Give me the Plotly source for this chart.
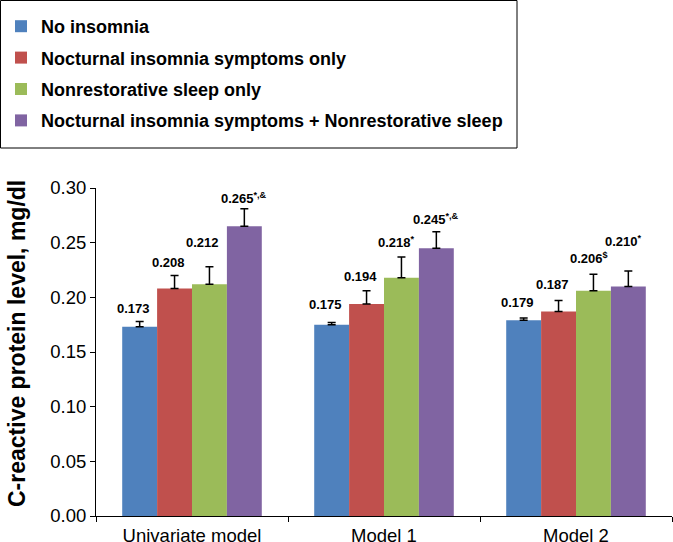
import plotly.graph_objects as go

categories = ["Univariate model", "Model 1", "Model 2"]
series_names = [
    "No insomnia",
    "Nocturnal insomnia symptoms only",
    "Nonrestorative sleep only",
    "Nocturnal insomnia symptoms + Nonrestorative sleep",
]
values = [
    [0.173, 0.175, 0.179],
    [0.208, 0.194, 0.187],
    [0.212, 0.218, 0.206],
    [0.265, 0.245, 0.210],
]
errors_upper = [
    [0.005, 0.002, 0.002],
    [0.012, 0.012, 0.010],
    [0.016, 0.019, 0.015],
    [0.016, 0.015, 0.014],
]
label_suffix = [
    ["", "", ""],
    ["", "", ""],
    ["", "*", "$"],
    ["*,&", "*,&", "*"],
]
y_ticks = [0.00, 0.05, 0.10, 0.15, 0.20, 0.25, 0.30]
y_title = "C-reactive protein level, mg/dl"

colors = ["#4F81BD", "#C0504D", "#9BBB59", "#8064A2"]
# vertical gap (px) between error-bar top and label centre
label_shift = [
    [13, 18, 16],
    [13, 14, 16],
    [24, 15, 16],
    [11, 13, 30],
]

FONT = "Liberation Sans, Arial, sans-serif"
W, H = 673, 542
ML, MR, MT, MB = 96, 1, 188, 26
PW, PH = W - ML - MR, H - MT - MB


def px_to_paper_x(px):
    return (px - ML) / PW


def px_to_paper_y(py):
    return (H - MB - py) / PH


fig = go.Figure()
for i, name in enumerate(series_names):
    fig.add_trace(go.Bar(
        name=name, x=categories, y=values[i],
        marker=dict(color=colors[i], line=dict(width=0)),
        error_y=dict(type="data", array=errors_upper[i], arrayminus=[0, 0, 0],
                     symmetric=False, color="black", thickness=1.5, width=4),
        legendgroup=f"g{i}",
    ))

n = len(series_names)
bargap = 0.273
grp = 1 - bargap
for i in range(n):
    for j, cat in enumerate(categories):
        v = values[i][j]
        top = v + errors_upper[i][j]
        suf = label_suffix[i][j]
        txt = f"<b>{v:.3f}</b>"
        if suf:
            txt += f"<sup><b>{suf}</b></sup>"
        offset = -grp / 2 + grp / n * (i + 0.5)
        fig.add_annotation(
            x=j + offset, y=top, xref="x", yref="y", text=txt, showarrow=False,
            yanchor="middle", xanchor="left", yshift=label_shift[i][j], xshift=-25,
            font=dict(family=FONT, size=13, color="black"),
        )

# y-axis title (placed as rotated text to match the reference position)
fig.add_annotation(
    x=px_to_paper_x(17), y=px_to_paper_y(344), xref="paper", yref="paper",
    text=f"<b>{y_title}</b>", textangle=-90, showarrow=False,
    xanchor="center", yanchor="middle",
    font=dict(family=FONT, size=23, color="black"),
)

# legend frame
fig.add_shape(type="rect", xref="paper", yref="paper",
              x0=px_to_paper_x(0.5), x1=px_to_paper_x(517),
              y0=px_to_paper_y(148), y1=px_to_paper_y(0.5),
              line=dict(color="black", width=1), fillcolor="rgba(0,0,0,0)")

fig.update_layout(
    width=W, height=H,
    margin=dict(l=ML, r=MR, t=MT, b=MB, autoexpand=False),
    paper_bgcolor="white", plot_bgcolor="white",
    barmode="group", bargap=bargap, bargroupgap=0,
    showlegend=True,
    legend=dict(
        x=px_to_paper_x(1), y=px_to_paper_y(8),
        xanchor="left", yanchor="top",
        font=dict(family=FONT, size=18, color="black", weight="bold"),
        traceorder="grouped", tracegroupgap=5,
        bgcolor="rgba(0,0,0,0)", borderwidth=0,
    ),
    xaxis=dict(
        showline=True, linecolor="black", linewidth=1,
        ticks="outside", tickson="boundaries", ticklen=5, tickcolor="black",
        tickfont=dict(family=FONT, size=18.5, color="black"),
        ticklabelstandoff=3,
        showgrid=False,
    ),
    yaxis=dict(
        range=[0, 0.30], tickvals=y_ticks, tickformat=".2f",
        showline=True, linecolor="black", linewidth=1,
        ticks="outside", ticklen=5, tickcolor="black",
        tickfont=dict(family=FONT, size=18.5, color="black"),
        showgrid=False, zeroline=False,
    ),
)
fig.write_html(
    "out.html",
    config={"displayModeBar": False},
    post_script="document.body.style.margin='0';document.body.style.overflow='hidden';",
)
